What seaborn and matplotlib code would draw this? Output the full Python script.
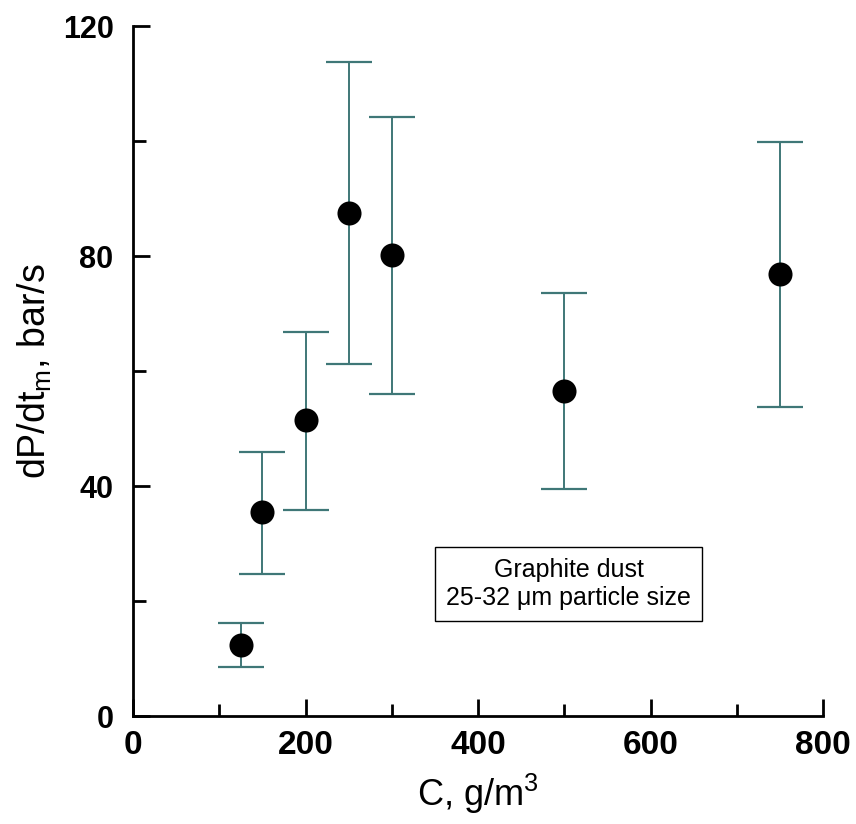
import matplotlib
matplotlib.use("Agg")
import matplotlib.pyplot as plt
import seaborn as sns
import numpy as np
import pandas as pd

# Data
conc = [125, 150, 200, 250, 300, 500, 750]
rate = [12.4, 35.4, 51.4, 87.5, 80.1, 56.6, 76.9]
err_low = [8.6, 24.7, 35.9, 61.3, 56.0, 39.5, 53.7]
err_high = [16.1, 45.9, 66.8, 113.8, 104.2, 73.5, 99.9]

x_major = [0, 200, 400, 600, 800]
x_minor = [100, 300, 500, 700]
y_major = [0, 40, 80, 120]
y_minor = [20, 60, 100]

sns.set_theme(style="white")
plt.rcParams['font.family'] = ['Liberation Sans', 'DejaVu Sans']
plt.rcParams['mathtext.fontset'] = 'custom'
plt.rcParams['mathtext.rm'] = 'Liberation Sans'
plt.rcParams['mathtext.it'] = 'Liberation Sans:italic'
plt.rcParams['text.color'] = 'black'
plt.rcParams['axes.labelcolor'] = 'black'

df = pd.DataFrame({"C": conc, "R": rate, "lo": err_low, "hi": err_high})

fig = plt.figure(figsize=(8.56, 8.24), dpi=100)
ax = fig.add_axes([133/856, 108/824, 690/856, 690/824])

yerr = np.vstack([df["R"] - df["lo"], df["hi"] - df["R"]])
ax.errorbar(df["C"], df["R"], yerr=yerr, fmt='none', ecolor='#3f7777',
            elinewidth=1.4, capsize=16.5, capthick=1.6, zorder=2)
sns.scatterplot(data=df, x="C", y="R", ax=ax, color='black', s=300,
                edgecolor='black', linewidth=0, zorder=3, legend=False)

ax.set_xlim(0, 800)
ax.set_ylim(0, 120)
ax.set_xticks(x_major)
ax.set_xticks(x_minor, minor=True)
ax.set_yticks(y_major)
ax.set_yticks(y_minor, minor=True)
ax.set_xticklabels([str(v) for v in x_major], fontsize=24, fontweight='bold')
ax.set_yticklabels([str(v) for v in y_major], fontsize=22, fontweight='bold')

for s in ['top', 'right']:
    ax.spines[s].set_visible(False)
for s in ['left', 'bottom']:
    ax.spines[s].set_linewidth(2)
    ax.spines[s].set_color('black')

ax.tick_params(axis='both', which='both', bottom=True, left=True,
               top=False, right=False)
ax.tick_params(axis='both', which='major', direction='in', length=12.5, width=2,
               color='black', pad=14, labelcolor='black')
ax.tick_params(axis='both', which='minor', direction='in', length=9, width=2,
               color='black')
ax.tick_params(axis='x', which='major', pad=10)

ax.set_xlabel('C, g/m$^\\mathregular{3}$', fontsize=26, labelpad=8,
              color='black')
ax.set_ylabel('dP/dt$_\\mathregular{m}$, bar/s', fontsize=27, labelpad=6,
              color='black')

ax.text(505, 23, 'Graphite dust\n25-32 \u03bcm particle size', fontsize=18,
        ha='center', va='center', linespacing=1.2, color='black',
        bbox=dict(boxstyle='square,pad=0.45', facecolor='white',
                  edgecolor='black', linewidth=1))

fig.savefig('out.png', dpi=100)
